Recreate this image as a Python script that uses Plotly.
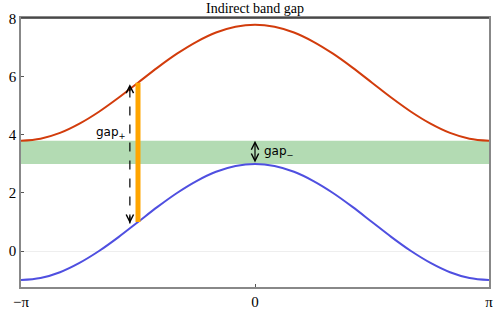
import plotly.graph_objects as go
import math

PI = math.pi
# crystal momentum samples (step pi/12) from -pi to pi
k_vals = [i * PI / 12 for i in range(-12, 13)]
# lower band (valence)
lower_half = [3.0, 2.93, 2.73, 2.41, 2.0, 1.52, 1.0, 0.48, 0.0, -0.41, -0.73, -0.93, -1.0]
lower_band = lower_half[::-1] + lower_half[1:]
# upper band (conduction)
upper_half = [7.8, 7.73, 7.53, 7.21, 6.8, 6.32, 5.8, 5.28, 4.8, 4.39, 4.07, 3.87, 3.8]
upper_band = upper_half[::-1] + upper_half[1:]

gap_band = [3.0, 3.8]            # shaded band
vertical_k = -PI / 2             # orange vertical transition
vertical_y = [1.0, 5.8]
gapplus_k = -1.68                # dashed arrow
gapplus_y = [0.95, 5.75]
gapminus_k = 0.0                 # small double arrow
gapminus_y = [3.0, 3.8]

x_tickvals = [-3.14159, 0, 3.14159]
x_ticktext = ["\u2212\u03c0", "0", "\u03c0"]
y_tickvals = [0, 2, 4, 6, 8]

SERIF = "Liberation Serif, Times New Roman, serif"

fig = go.Figure()

fig.add_shape(type="rect", xref="x", yref="y", x0=-PI, x1=PI,
              y0=gap_band[0], y1=gap_band[1], fillcolor="#b3dbb3",
              line_width=0, layer="below")

fig.add_trace(go.Scatter(x=k_vals, y=upper_band, mode="lines",
                         line=dict(color="#d23c0c", width=2, shape="spline"),
                         hoverinfo="skip"))
fig.add_trace(go.Scatter(x=k_vals, y=lower_band, mode="lines",
                         line=dict(color="#4f4fe0", width=2, shape="spline"),
                         hoverinfo="skip"))
fig.add_trace(go.Scatter(x=[vertical_k, vertical_k], y=vertical_y, mode="lines",
                         line=dict(color="#ffa500", width=5),
                         hoverinfo="skip"))
fig.add_trace(go.Scatter(x=[gapplus_k, gapplus_k], y=gapplus_y, mode="lines",
                         line=dict(color="black", width=1.2, dash="dash"),
                         hoverinfo="skip"))

# arrow heads for dashed arrow
for head, tail in [(gapplus_y[1], gapplus_y[1] - 0.3), (gapplus_y[0], gapplus_y[0] + 0.3)]:
    fig.add_annotation(x=gapplus_k, y=head, ax=gapplus_k, ay=tail,
                       xref="x", yref="y", axref="x", ayref="y", text="",
                       showarrow=True, arrowhead=5, arrowsize=1.2, arrowwidth=1.2,
                       arrowcolor="black", standoff=0)

# double arrow gap-
fig.add_annotation(x=gapminus_k, y=gapminus_y[1], ax=gapminus_k, ay=gapminus_y[0],
                   xref="x", yref="y", axref="x", ayref="y", text="",
                   showarrow=True, arrowhead=5, startarrowhead=5, arrowside="end+start",
                   arrowsize=1.2, startarrowsize=1.2, arrowwidth=1.2,
                   arrowcolor="black", standoff=0, startstandoff=0)

fig.add_annotation(x=-1.70, y=4.05, xref="x", yref="y", text="gap<sub>+</sub>",
                   showarrow=False, xanchor="right", yanchor="middle",
                   font=dict(family="DejaVu Sans", size=12, color="black"))
fig.add_annotation(x=0.09, y=3.42, xref="x", yref="y", text="gap<sub>\u2212</sub>",
                   showarrow=False, xanchor="left", yanchor="middle",
                   font=dict(family="DejaVu Sans", size=12, color="black"))

# top frame line (dark)
fig.add_shape(type="line", xref="paper", yref="paper", x0=0, x1=1, y0=1, y1=1,
              line=dict(color="#333333", width=1.5))

fig.update_layout(
    width=497, height=311,
    margin=dict(l=21, r=8, t=18, b=24, autoexpand=False),
    plot_bgcolor="white", paper_bgcolor="white",
    showlegend=False,
    title=dict(text="Indirect band gap", x=0.5, xref="paper", xanchor="center",
               y=0.973, yref="container", yanchor="middle",
               font=dict(family=SERIF, size=14, color="black")),
    xaxis=dict(range=[-PI, PI], tickvals=x_tickvals, ticktext=x_ticktext,
               showgrid=False, zeroline=False, showline=True, linecolor="#888888",
               linewidth=1.5, mirror=True, ticks="inside", ticklen=3,
               tickcolor="#555555", automargin=False,
               tickfont=dict(family=SERIF, size=15, color="black")),
    yaxis=dict(range=[-1.24, 8.03], tickvals=y_tickvals,
               showgrid=False, zeroline=True, zerolinecolor="#eeeeee", zerolinewidth=1,
               showline=True, linecolor="#888888", linewidth=1.5, mirror=True,
               ticks="inside", ticklen=3, tickcolor="#555555", automargin=False,
               tickfont=dict(family=SERIF, size=15, color="black")),
)

fig.write_html("out.html", config={"displayModeBar": False},
               post_script="document.body.style.margin='0';document.body.style.overflow='hidden';")
